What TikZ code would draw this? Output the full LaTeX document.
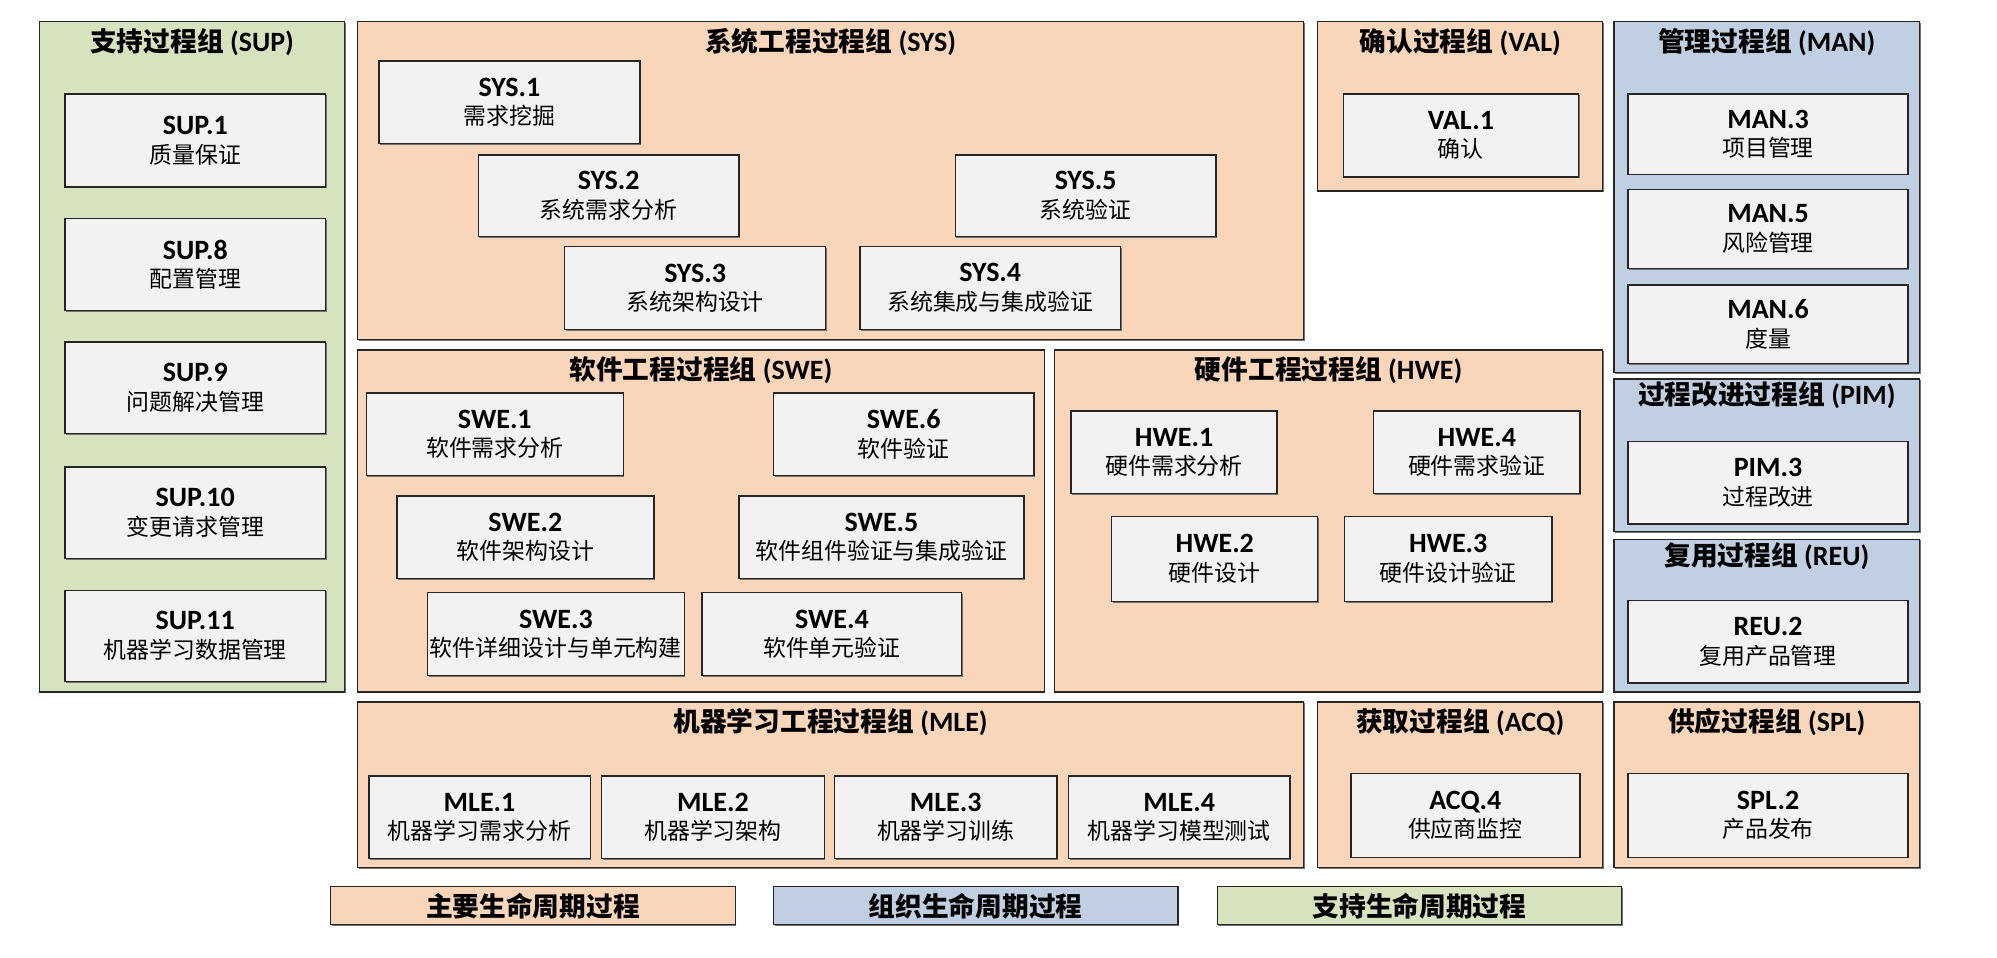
\documentclass[tikz,border=0pt]{standalone}
\usepackage{fontspec}
\setmainfont{Carlito}
\newfontfamily\cjk{Noto Sans CJK SC}
\usetikzlibrary{shadows}
\definecolor{cO}{HTML}{F9D5B9}
\definecolor{cB}{HTML}{C0CFE2}
\definecolor{cG}{HTML}{D7E3BF}
\definecolor{cBox}{HTML}{F2F2F2}
\definecolor{cLine}{HTML}{262626}
\tikzset{
  shd/.style={drop shadow={shadow xshift=0.9pt, shadow yshift=-0.9pt, fill=black!55, opacity=1}},
  grp/.style={draw=cLine, line width=1.1pt, inner sep=0pt, shd},
  pbox/.style={draw=cLine, line width=1.1pt, fill=cBox, align=center, inner sep=0pt, shd,
    font=\fontsize{22}{22.5}\selectfont},
  gtitle/.style={inner sep=0pt, font=\fontsize{22}{24}\selectfont\bfseries},
  legbox/.style={draw=cLine, line width=1.1pt, inner sep=0pt, shd,
    font=\cjk\fontsize{21}{24}\selectfont\bfseries},
}
\newcommand\lab[2]{{\bfseries #1}\\{\cjk\fontsize{18}{22}\selectfont #2}}
% group: name, x1, y1, x2, y2, colour, cjk title, code, title y
\newcommand\grpnode[9]{%
  \node[grp, fill=#6, minimum width={(#4-#2)*1pt}, minimum height={(#5-#3)*1pt}]
    (#1) at ({(#2+#4)/2},{(#3+#5)/2}) {};
  \node[gtitle] (#1t) at ({(#2+#4)/2},#9) {{\cjk\fontsize{21}{24}\selectfont\bfseries #7} (#8)};}
% process box: name, x1, y1, x2, y2, code, cjk text
\newcommand\procnode[7]{%
  \node[pbox, minimum width={(#4-#2)*1pt}, minimum height={(#5-#3)*1pt}]
    (#1) at ({(#2+#4)/2},{(#3+#5)/2}) {\lab{#6}{#7}};}
\begin{document}
\begin{tikzpicture}[x=1pt,y=-1pt]
\useasboundingbox (0,0) rectangle (1570,753);
% groups
\grpnode{sup}{31}{17}{271}{544}{cG}{支持过程组}{SUP}{33}
\grpnode{sys}{281}{17}{1025}{267}{cO}{系统工程过程组}{SYS}{33}
\grpnode{val}{1036}{17}{1260}{150}{cO}{确认过程组}{VAL}{33}
\grpnode{man}{1269}{17}{1509}{293}{cB}{管理过程组}{MAN}{33}
\grpnode{pim}{1269}{298}{1509}{418}{cB}{过程改进过程组}{PIM}{311}
\grpnode{reu}{1269}{424}{1509}{544}{cB}{复用过程组}{REU}{437}
\grpnode{swe}{281}{275}{821}{544}{cO}{软件工程过程组}{SWE}{291}
\grpnode{hwe}{829}{275}{1260}{544}{cO}{硬件工程过程组}{HWE}{291}
\grpnode{mle}{281}{552}{1025}{682}{cO}{机器学习工程过程组}{MLE}{568}
\grpnode{acq}{1036}{552}{1260}{682}{cO}{获取过程组}{ACQ}{568}
\grpnode{spl}{1269}{552}{1509}{682}{cO}{供应过程组}{SPL}{568}
% SUP
\procnode{sup1}{51}{74}{256}{147}{SUP.1}{质量保证}
\procnode{sup8}{51}{172}{256}{244}{SUP.8}{配置管理}
\procnode{sup9}{51}{269}{256}{341}{SUP.9}{问题解决管理}
\procnode{sup10}{51}{367}{256}{439}{SUP.10}{变更请求管理}
\procnode{sup11}{51}{464}{256}{536}{SUP.11}{机器学习数据管理}
% SYS
\procnode{sys1}{298}{48}{503}{113}{SYS.1}{需求挖掘}
\procnode{sys2}{376}{122}{581}{186}{SYS.2}{系统需求分析}
\procnode{sys3}{444}{194}{649}{259}{SYS.3}{系统架构设计}
\procnode{sys4}{676}{194}{881}{259}{SYS.4}{系统集成与集成验证}
\procnode{sys5}{751}{122}{956}{186}{SYS.5}{系统验证}
% VAL
\procnode{val1}{1056}{74}{1241}{139}{VAL.1}{确认}
% MAN
\procnode{man3}{1280}{74}{1500}{137}{MAN.3}{项目管理}
\procnode{man5}{1280}{149}{1500}{211}{MAN.5}{风险管理}
\procnode{man6}{1280}{224}{1500}{286}{MAN.6}{度量}
% PIM, REU
\procnode{pim3}{1280}{347}{1500}{412}{PIM.3}{过程改进}
\procnode{reu2}{1280}{472}{1500}{537}{REU.2}{复用产品管理}
% SWE
\procnode{swe1}{288}{309}{490}{374}{SWE.1}{软件需求分析}
\procnode{swe6}{608}{309}{813}{374}{SWE.6}{软件验证}
\procnode{swe2}{312}{390}{514}{455}{SWE.2}{软件架构设计}
\procnode{swe5}{581}{390}{805}{455}{SWE.5}{软件组件验证与集成验证}
\procnode{swe3}{336}{466}{538}{531}{SWE.3}{软件详细设计与单元构建}
\procnode{swe4}{552}{466}{756}{531}{SWE.4}{软件单元验证}
% HWE
\procnode{hwe1}{842}{323}{1004}{388}{HWE.1}{硬件需求分析}
\procnode{hwe4}{1080}{323}{1242}{388}{HWE.4}{硬件需求验证}
\procnode{hwe2}{874}{406}{1036}{473}{HWE.2}{硬件设计}
\procnode{hwe3}{1057}{406}{1220}{473}{HWE.3}{硬件设计验证}
% MLE
\procnode{mle1}{290}{610}{464}{675}{MLE.1}{机器学习需求分析}
\procnode{mle2}{473}{610}{648}{675}{MLE.2}{机器学习架构}
\procnode{mle3}{656}{610}{831}{675}{MLE.3}{机器学习训练}
\procnode{mle4}{840}{610}{1014}{675}{MLE.4}{机器学习模型测试}
% ACQ, SPL
\procnode{acq4}{1062}{608}{1242}{674}{ACQ.4}{供应商监控}
\procnode{spl2}{1280}{608}{1500}{674}{SPL.2}{产品发布}
% legend
\node[legbox, fill=cO, minimum width=318pt, minimum height=30pt] (leg1) at (419,712) {主要生命周期过程};
\node[legbox, fill=cB, minimum width=318pt, minimum height=30pt] (leg2) at (767,712) {组织生命周期过程};
\node[legbox, fill=cG, minimum width=318pt, minimum height=30pt] (leg3) at (1116,712) {支持生命周期过程};
\end{tikzpicture}
\end{document}
